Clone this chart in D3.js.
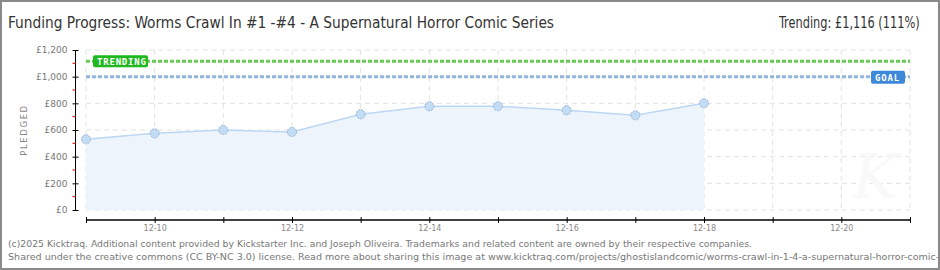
<!DOCTYPE html>
<html>
<head>
<meta charset="utf-8">
<script src="https://cdn.jsdelivr.net/npm/d3@7"></script>
<style>
  body { margin: 0; background: #fff; }
  svg { display: block; }
</style>
</head>
<body>
<svg id="chart"></svg>
<script>
// values
const days = ["2024-12-09", "2024-12-10", "2024-12-11", "2024-12-12", "2024-12-13",
              "2024-12-14", "2024-12-15", "2024-12-16", "2024-12-17", "2024-12-18"]
const pledged = [530, 575, 600, 585, 718, 778, 778, 748, 710, 800]
const goal = 1000
const trending = 1116
const yTicks = [0, 200, 400, 600, 800, 1000, 1200]
const titleText = "Funding Progress: Worms Crawl In #1 -#4 - A Supernatural Horror Comic Series"
const trendText = "Trending:  £1,116 (111%)"
const footer = [
    "(c)2025 Kicktraq. Additional content provided by Kickstarter Inc. and Joseph Oliveira. Trademarks and related content are owned by their respective companies.",
    "Shared under the creative commons (CC BY-NC 3.0) license. Read more about sharing this image at www.kicktraq.com/projects/ghostislandcomic/worms-crawl-in-1-4-a-supernatural-horror-comic-series/"
]

const width = 940, height = 270
const margins = {left: 86, right: 30, top: 50, bottom: 60}

const parse = d3.timeParse("%Y-%m-%d")
const data = days.map((d, i) => ({date: parse(d), value: pledged[i]}))

const svg = d3.select("#chart").attr("width", width).attr("height", height)

const scaleX = d3.scaleTime()
    .domain([parse("2024-12-09"), parse("2024-12-21")])
    .range([margins.left, width - margins.right])
const scaleY = d3.scaleLinear().domain([0, 1200]).range([height - margins.bottom, margins.top])

// frame
svg.append("rect").attr("x", 1).attr("y", 1).attr("width", width - 2).attr("height", height - 2)
    .attr("fill", "#fff").attr("stroke", "#8a8a8a").attr("stroke-width", 2)

// title
const titleFont = "'Liberation Sans Narrow', 'DejaVu Sans Condensed', sans-serif"
svg.append("text").text(titleText).attr("x", 8).attr("y", 28)
    .attr("font-family", titleFont).attr("font-size", 16).attr("fill", "#333")
    .attr("textLength", 546).attr("lengthAdjust", "spacingAndGlyphs")
const trendEl = svg.append("text").text(trendText).attr("x", 0).attr("y", 0)
    .attr("font-family", titleFont).attr("font-size", 16).attr("fill", "#333")
const tw = trendEl.node().getComputedTextLength()
trendEl.attr("transform", `translate(779,28) scale(${141 / tw},1)`)

// grid
const dayTicks = d3.timeDay.range(parse("2024-12-09"), d3.timeDay.offset(parse("2024-12-21"), 1))
const grid = svg.append("g")
grid.selectAll("line.v").data(dayTicks).join("line").attr("class", "v")
    .attr("x1", d => scaleX(d)).attr("x2", d => scaleX(d))
    .attr("y1", scaleY(1200)).attr("y2", scaleY(0))
    .attr("stroke", "#e2e2e2").attr("stroke-dasharray", "5,4")
grid.selectAll("line.h").data(yTicks).join("line").attr("class", "h")
    .attr("x1", margins.left).attr("x2", width - margins.right)
    .attr("y1", d => scaleY(d)).attr("y2", d => scaleY(d))
    .attr("stroke", "#e2e2e2").attr("stroke-dasharray", "5,4")

// watermark
svg.append("text").text("K").attr("x", 852).attr("y", 198)
    .attr("font-family", "'DejaVu Serif', serif").attr("font-style", "italic")
    .attr("font-size", 62).attr("fill", "#f9f9f9")

// area + line
const area = d3.area().x(d => scaleX(d.date)).y0(scaleY(0)).y1(d => scaleY(d.value))
const line = d3.line().x(d => scaleX(d.date)).y(d => scaleY(d.value))
svg.append("path").datum(data).attr("d", area).attr("fill", "#edf4fc")
svg.append("path").datum(data).attr("d", line).attr("fill", "none").attr("stroke", "#bcd7f3").attr("stroke-width", 1.5)

// trending and goal lines
svg.append("line").attr("x1", margins.left).attr("x2", width - margins.right)
    .attr("y1", scaleY(trending)).attr("y2", scaleY(trending))
    .attr("stroke", "#66cc55").attr("stroke-width", 3).attr("stroke-dasharray", "4,2")
svg.append("line").attr("x1", margins.left).attr("x2", width - margins.right)
    .attr("y1", scaleY(goal)).attr("y2", scaleY(goal))
    .attr("stroke", "#93b5dc").attr("stroke-width", 3).attr("stroke-dasharray", "4,2")

// points
svg.selectAll("circle.pt").data(data).join("circle").attr("class", "pt")
    .attr("cx", d => scaleX(d.date)).attr("cy", d => scaleY(d.value)).attr("r", 4.5)
    .attr("fill", "#c3dcf6").attr("stroke", "#98b3d3").attr("stroke-width", 1).attr("stroke-dasharray", "2,1")

// labels on the lines
function tag(x, y, w, h, txt, color) {
    const g = svg.append("g")
    g.append("rect").attr("x", x).attr("y", y).attr("width", w).attr("height", h).attr("rx", 2).attr("fill", color)
    g.append("text").text(txt).attr("x", x + 4).attr("y", y + h / 2 + 3.5)
        .attr("font-family", "'DejaVu Sans Mono', monospace").attr("font-size", 9).attr("font-weight", "bold")
        .attr("fill", "#fff").attr("letter-spacing", 0.8)
}
tag(93, scaleY(trending) - 6, 55, 12, "TRENDING", "#1fb81f")
tag(871, scaleY(goal) - 6, 34, 13, "GOAL", "#3d88d8")

// y axis
const yAxis = d3.axisLeft(scaleY).tickValues(yTicks).tickSize(3).tickFormat(d => "£" + d3.format(",")(d))
const yG = svg.append("g").attr("transform", "translate(75.5,0)").call(yAxis)
yG.select(".domain").attr("d", `M0,${scaleY(1200)}V${scaleY(0)}`).attr("stroke", "#000")
yG.selectAll(".tick line").attr("x1", -3).attr("x2", 3).attr("stroke", "#000")
yG.selectAll(".tick text").attr("x", -8).attr("font-family", "'DejaVu Sans', sans-serif").attr("font-size", 9).attr("fill", "#777")
yG.selectAll("line.minor").data(d3.range(100, 1200, 200)).join("line").attr("class", "minor")
    .attr("x1", -3).attr("x2", 0).attr("y1", d => scaleY(d)).attr("y2", d => scaleY(d)).attr("stroke", "#e00")

svg.append("text").text("PLEDGED").attr("transform", `translate(27,${scaleY(600)}) rotate(-90)`)
    .attr("text-anchor", "middle").attr("font-family", "'DejaVu Sans', sans-serif")
    .attr("font-size", 8.5).attr("letter-spacing", 1.6).attr("fill", "#888")

// x axis
const xAxis = d3.axisBottom(scaleX).tickValues(dayTicks).tickSize(3)
    .tickFormat(d => d.getDate() % 2 === 0 ? d3.timeFormat("%m-%d")(d) : "")
const xG = svg.append("g").attr("transform", "translate(0,220)").call(xAxis)
xG.select(".domain").attr("d", `M${scaleX(dayTicks[0])},0H${scaleX(dayTicks[dayTicks.length - 1])}`).attr("stroke", "#000").attr("stroke-width", 1.5)
xG.selectAll(".tick line").attr("y1", -3).attr("y2", 3).attr("stroke", "#000")
xG.selectAll(".tick text").attr("y", 5).attr("font-family", "'DejaVu Sans', sans-serif").attr("font-size", 8).attr("fill", "#888")

// footer, both lines squeezed by about the same factor
const feet = svg.selectAll("text.foot").data(footer).join("text").attr("class", "foot")
    .text(d => d).attr("x", 8).attr("y", (d, i) => 247 + i * 13)
    .attr("font-family", "'DejaVu Sans Condensed', 'DejaVu Sans', sans-serif").attr("font-size", 9.5).attr("fill", "#777")
const lens = feet.nodes().map(n => n.getComputedTextLength())
const squeeze = 744 / lens[0]
feet.attr("textLength", (d, i) => lens[i] * squeeze * (i === 0 ? 1 : 1.03)).attr("lengthAdjust", "spacingAndGlyphs")

// keep frame on top at right edge
svg.append("rect").attr("x", 1).attr("y", 1).attr("width", width - 2).attr("height", height - 2)
    .attr("fill", "none").attr("stroke", "#8a8a8a").attr("stroke-width", 2)
</script>
</body>
</html>
